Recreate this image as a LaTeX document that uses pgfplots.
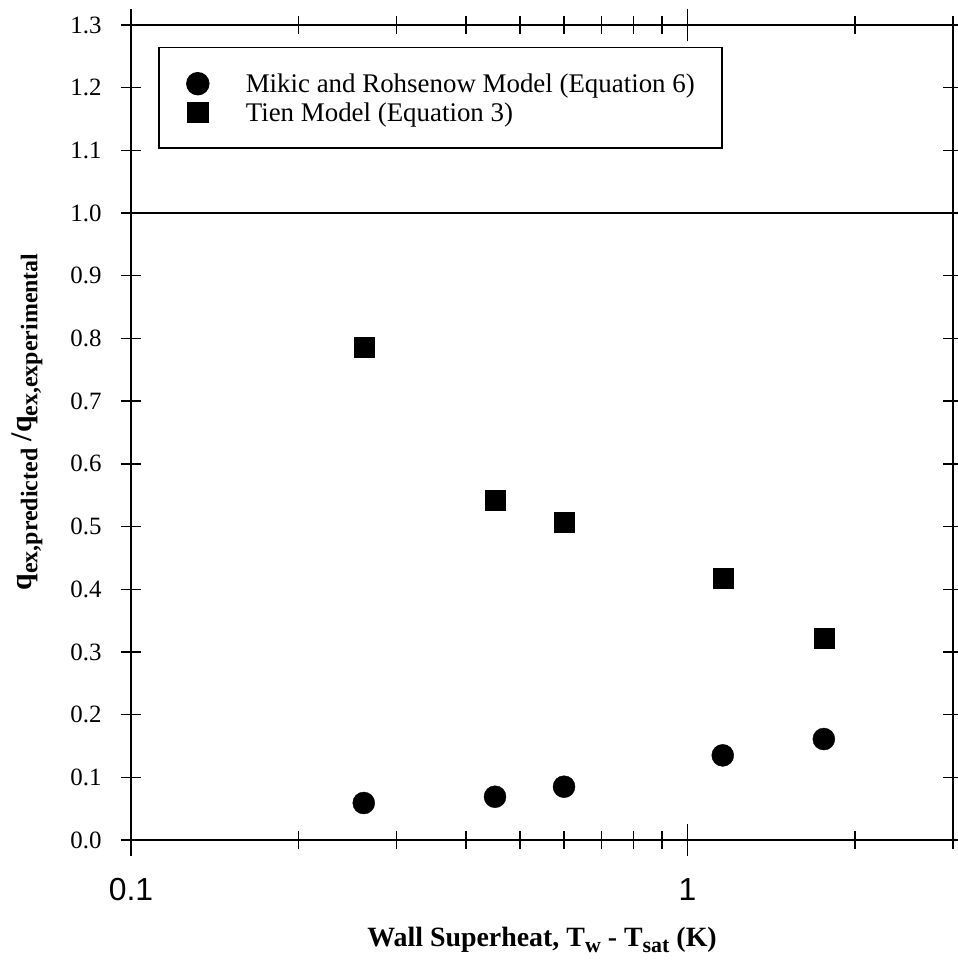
\documentclass[border=0pt]{standalone}
\usepackage{pgfplots}
\pgfplotsset{compat=1.18}
\usepackage{fontspec}
\setmainfont{Liberation Serif}
\newfontfamily\tickfont{Liberation Sans}
\newcommand{\sub}[1]{\raisebox{-6bp}{\fontsize{24}{24}\selectfont #1}}
\newcommand{\xsub}[1]{\raisebox{-6bp}{\fontsize{22}{22}\selectfont #1}}
\begin{document}
\begin{tikzpicture}[x=1bp,y=1bp]
\path[use as bounding box] (0,0) rectangle (958,964);
\begin{axis}[
  at={(131bp,124bp)}, anchor=south west,
  width=822bp, height=815bp, scale only axis,
  xmode=log, xmin=0.1, xmax=3, ymin=0, ymax=1.3,
  axis line style={line width=1.6bp},
  every tick/.style={black, line width=1.4bp},
  tick align=center,
  major tick length=20bp, minor tick length=18bp,
  xtick={0.1,1},
  xticklabels={0.1,1},
  minor xtick={0.2,0.3,0.4,0.5,0.6,0.7,0.8,0.9,2,3},
  extra x ticks={0.1,1},
  extra x tick labels={},
  extra x tick style={major tick length=32bp, tick align=center},
  xticklabel style={font=\fontsize{32}{34}\selectfont\tickfont, yshift=-25bp},
  ytick={0,0.1,0.2,0.3,0.4,0.5,0.6,0.7,0.8,0.9,1.0,1.1,1.2,1.3},
  yticklabel style={xshift=-16bp, font=\fontsize{25}{28}\selectfont, /pgf/number format/.cd, fixed, fixed zerofill, precision=1, assume math mode=true},
  xlabel={\fontsize{28}{30}\selectfont\bfseries Wall Superheat, T\xsub{w} - T\xsub{sat} (K)},
  xlabel style={at={(axis description cs:0.5,-0.1227)}, anchor=center},
  ylabel={\fontsize{30}{32}\selectfont\bfseries q\sub{ex,predicted} /q\sub{ex,experimental}},
  ylabel style={at={(axis description cs:-0.1265,0.513)}, anchor=center},
  legend style={at={(rel axis cs:0.033,0.973)}, anchor=north west, draw=black, line width=1.4bp,
    font=\fontsize{27}{30}\selectfont, inner xsep=24bp, inner ysep=25bp, row sep=8bp,
    nodes={inner xsep=3bp, inner ysep=0bp}},
  legend cell align=left,
  legend image code/.code={\path[draw=none,fill=none] (0bp,0bp) -- (60bp,0bp); \draw[#1] plot[only marks] coordinates {(15bp,0bp)};},
]
\addplot[only marks, mark=*, mark size=11bp, black] coordinates {
  (0.262,0.059) (0.451,0.069) (0.600,0.085) (1.157,0.135) (1.758,0.161)
};
\addlegendentry{Mikic and Rohsenow Model (Equation 6)}
\addplot[only marks, mark=square*, mark size=10bp, black] coordinates {
  (0.262,0.786) (0.451,0.542) (0.600,0.507) (1.157,0.418) (1.758,0.322)
};
\addlegendentry{Tien Model (Equation 3)}
\draw[line width=1.6bp] ([xshift=-18bp]axis cs:0.1,1) -- (axis cs:3,1);
\end{axis}
\end{tikzpicture}
\end{document}
